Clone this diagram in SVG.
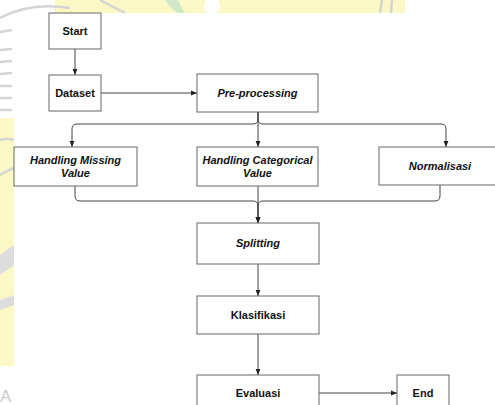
<svg xmlns="http://www.w3.org/2000/svg" width="495" height="405" viewBox="0 0 495 405">
<defs>
<style>
.box{fill:#ffffff;stroke:#666666;stroke-width:1}
.t{font-family:"Liberation Sans",Arial,sans-serif;font-size:11px;font-weight:bold;fill:#111111;text-anchor:middle}
.i{font-style:italic}
.e{fill:none;stroke:#444444;stroke-width:1}
.wm{fill:none;stroke:#d4d4d4;stroke-width:2.5}
</style>
<marker id="ah" viewBox="0 0 10 10" refX="10" refY="5" markerWidth="6" markerHeight="6" markerUnits="userSpaceOnUse" orient="auto">
<path d="M0,1 L10,5 L0,9 Z" fill="#222222"/>
</marker>
</defs>
<rect width="495" height="405" fill="#ffffff"/>
<g id="watermark">
<rect x="55" y="0" width="350" height="13" fill="#fcf8c6"/>
<rect x="0" y="118" width="14" height="248" fill="#fcf8c6"/>
<path class="wm" d="M0,18 Q30,2 70,8"/>
<path class="wm" d="M100,0 Q115,8 125,13"/>
<path d="M165,0 Q170,8 178,13 L185,13 Q180,5 178,0 Z" fill="#cfe8c8"/>
<circle cx="212" cy="6" r="8" fill="#ffffff"/>
<path class="wm" d="M382,0 L380,13 M392,0 L391,13"/>
<path class="wm" d="M0,32 L12,30 M0,50 L12,49 M0,62 L12,61 M0,74 L12,73 M0,86 L12,86 M0,98 L12,98 M0,110 L12,110"/>
<path class="wm" d="M0,140 Q8,138 14,140 M0,175 Q8,170 14,168"/>
<path d="M0,255 L14,245 L14,265 L0,275 Z M0,300 L14,295 L14,305 L0,310 Z" fill="#dddddd"/>
<text x="0" y="402" font-family="Liberation Sans,Arial,sans-serif" font-size="17" fill="#cccccc">A</text>
</g>
<g id="connectors">
<path class="e" d="M75,49 L75,75" marker-end="url(#ah)"/>
<path class="e" d="M101,93 L197,93" marker-end="url(#ah)"/>
<path class="e" d="M258,112 L258,147" marker-end="url(#ah)"/>
<path class="e" d="M258,112 L258,119 Q258,124 253,124 L77,124 Q72,124 72,129 L72,147" marker-end="url(#ah)"/>
<path class="e" d="M258,112 L258,119 Q258,124 263,124 L441,124 Q446,124 446,129 L446,147" marker-end="url(#ah)"/>
<path class="e" d="M258,186 L258,223" marker-end="url(#ah)"/>
<path class="e" d="M75,186 L75,196 Q75,201 80,201 L253,201 Q258,201 258,206 L258,223" marker-end="url(#ah)"/>
<path class="e" d="M440,185 L440,196 Q440,201 435,201 L263,201 Q258,201 258,206 L258,223" marker-end="url(#ah)"/>
<path class="e" d="M258,264 L258,296" marker-end="url(#ah)"/>
<path class="e" d="M258,334 L258,375" marker-end="url(#ah)"/>
<path class="e" d="M319,393 L397,393" marker-end="url(#ah)"/>
</g>
<g id="start"><rect class="box" x="49" y="13" width="52" height="36"/><text class="t" x="75" y="35">Start</text></g>
<g id="dataset"><rect class="box" x="49" y="75" width="52" height="36"/><text class="t" x="75" y="97">Dataset</text></g>
<g id="preprocessing"><rect class="box" x="197" y="74" width="121" height="38"/><text class="t i" x="257.5" y="97">Pre-processing</text></g>
<g id="handling-missing"><rect class="box" x="14" y="147" width="123" height="39"/><text class="t i" x="75.5" y="164">Handling Missing</text><text class="t i" x="75.5" y="177">Value</text></g>
<g id="handling-categorical"><rect class="box" x="197" y="147" width="121" height="39"/><text class="t i" x="257.5" y="164">Handling Categorical</text><text class="t i" x="257.5" y="177">Value</text></g>
<g id="normalisasi"><rect class="box" x="379" y="147" width="122" height="38"/><text class="t i" x="440" y="170">Normalisasi</text></g>
<g id="splitting"><rect class="box" x="197" y="223" width="122" height="41"/><text class="t i" x="258" y="247">Splitting</text></g>
<g id="klasifikasi"><rect class="box" x="197" y="296" width="122" height="38"/><text class="t" x="258" y="319">Klasifikasi</text></g>
<g id="evaluasi"><rect class="box" x="197" y="375" width="122" height="38"/><text class="t" x="258" y="397">Evaluasi</text></g>
<g id="end"><rect class="box" x="397" y="375" width="52" height="38"/><text class="t" x="423" y="397">End</text></g>
</svg>
